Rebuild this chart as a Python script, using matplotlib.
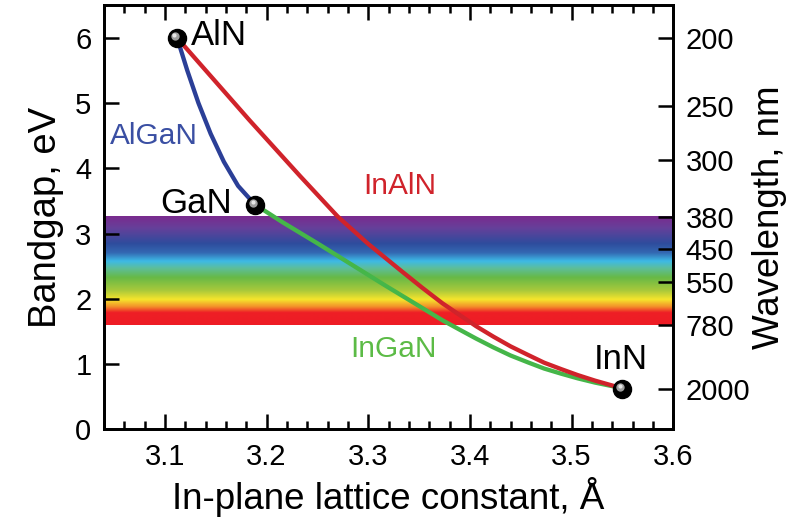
import numpy as np
import matplotlib
matplotlib.use('Agg')
import matplotlib.pyplot as plt
from matplotlib.colors import LinearSegmentedColormap
from matplotlib.ticker import MultipleLocator
from matplotlib.transforms import offset_copy

plt.rcParams['font.family'] = ['Liberation Sans', 'DejaVu Sans']

# binary compounds: lattice constant (A), bandgap (eV)
compounds = ['AlN', 'GaN', 'InN']
a_bin = [3.112, 3.189, 3.55]
eg_bin = [6.0, 3.44, 0.62]

# ternary curves
algan_a = [3.112, 3.122, 3.133, 3.145, 3.158, 3.172, 3.183, 3.189]
algan_eg = [6.0, 5.50, 5.00, 4.53, 4.10, 3.73, 3.54, 3.44]

inaln_a = [3.112, 3.183, 3.233, 3.270, 3.300, 3.333, 3.353, 3.373, 3.390,
           3.406, 3.423, 3.440, 3.457, 3.473, 3.490, 3.506, 3.523, 3.540, 3.55]
inaln_eg = [6.0, 4.74, 3.88, 3.26, 2.84, 2.42, 2.17, 1.93, 1.75,
            1.58, 1.42, 1.27, 1.14, 1.02, 0.92, 0.83, 0.745, 0.67, 0.62]

ingan_a = [3.189, 3.216, 3.250, 3.283, 3.316, 3.353, 3.373, 3.390, 3.406,
           3.423, 3.440, 3.457, 3.473, 3.490, 3.506, 3.523, 3.540, 3.55]
ingan_eg = [3.44, 3.17, 2.85, 2.53, 2.21, 1.86, 1.67, 1.525, 1.39,
            1.255, 1.13, 1.025, 0.93, 0.85, 0.78, 0.715, 0.66, 0.62]

# right axis: wavelength labels and where they sit on the eV scale
wl_labels = ['200', '250', '300', '380', '450', '550', '780', '2000']
wl_ev = [6.0, 4.96, 4.13, 3.26, 2.76, 2.25, 1.59, 0.62]

# visible band (eV) and its colour stops
band_lo, band_hi = 1.59, 3.26
band_ev = [1.59, 1.78, 1.87, 1.98, 2.12, 2.32, 2.46, 2.57, 2.70, 2.84, 3.08, 3.26]
band_col = ['#EE1C25', '#EE1F26', '#F3902A', '#F6E52C', '#A9C93B', '#67B946',
            '#5DBE9A', '#3DBAE6', '#3468B2', '#2E4C9D', '#66409A', '#7A2B8E']

xmin, xmax = 3.04, 3.6
ymin, ymax = 0, 6.5

fig = plt.figure(figsize=(7.93, 5.19), dpi=100)
ax = fig.add_axes([0.131, 0.173, 0.718, 0.817])

# rainbow band
pos = [(e - band_lo) / (band_hi - band_lo) for e in band_ev]
cmap = LinearSegmentedColormap.from_list('vis', list(zip(pos, band_col)))
grad = np.linspace(0, 1, 256).reshape(-1, 1)
ax.imshow(grad, cmap=cmap, origin='lower', aspect='auto',
          extent=[xmin, xmax, band_lo, band_hi], zorder=1, interpolation='bilinear')

ax.plot(algan_a, algan_eg, color='#2B3F97', lw=3.1, zorder=3, solid_joinstyle='round')
ax.plot(ingan_a, ingan_eg, color='#45B649', lw=3.1, zorder=3, solid_joinstyle='round')
ax.plot(inaln_a, inaln_eg, color='#D0232B', lw=3.1, zorder=4, solid_joinstyle='round')

# balls with a small highlight
ax.plot(a_bin, eg_bin, 'o', color='black', ms=13, zorder=5)
hl = offset_copy(ax.transData, fig=fig, x=-1.6, y=1.6, units='points')
ax.plot(a_bin, eg_bin, 'o', color='#9e9e9e', ms=6, mec='none', transform=hl, zorder=6)
hl2 = offset_copy(ax.transData, fig=fig, x=-1.9, y=1.9, units='points')
ax.plot(a_bin, eg_bin, 'o', color='#e6e6e6', ms=3, mec='none', transform=hl2, zorder=6)

ax.text(3.126, 5.89, 'AlN', fontsize=25, ha='left', va='baseline', zorder=7)
ax.text(3.166, 3.31, 'GaN', fontsize=25, ha='right', va='baseline', zorder=7)
ax.text(3.522, 0.92, 'InN', fontsize=25, ha='left', va='baseline', zorder=7)
ax.text(3.046, 4.37, 'AlGaN', fontsize=21.5, color='#3A4FA3', va='baseline')
ax.text(3.295, 3.60, 'InAlN', fontsize=21.5, color='#D0232B', va='baseline')
ax.text(3.282, 1.11, 'InGaN', fontsize=21.5, color='#5CBB46', va='baseline')

ax.set_xlim(xmin, xmax)
ax.set_ylim(ymin, ymax)
ax.xaxis.set_major_locator(MultipleLocator(0.1))
ax.xaxis.set_minor_locator(MultipleLocator(0.02))
ax.yaxis.set_major_locator(MultipleLocator(1))
ax.set_xticks(np.arange(3.1, 3.61, 0.1))
ax.set_xticklabels(['3.1', '3.2', '3.3', '3.4', '3.5', '3.6'])
ax.tick_params(axis='x', which='major', direction='in', length=11, width=1.8,
               labelsize=21, pad=10, top=True)
ax.tick_params(axis='x', which='minor', direction='in', length=6, width=1.8, top=True)
ax.tick_params(axis='y', which='major', direction='in', length=11, width=1.8,
               labelsize=21, pad=9, right=False)
for s in ax.spines.values():
    s.set_linewidth(2)
ax.set_xlabel('In-plane lattice constant, Å', fontsize=26.5, labelpad=4)
ax.set_ylabel('Bandgap, eV', fontsize=27.5, labelpad=8)

ax2 = ax.twinx()
ax2.set_ylim(ymin, ymax)
ax2.set_yticks(wl_ev)
ax2.set_yticklabels(wl_labels)
ax2.tick_params(axis='y', direction='in', length=11, width=1.8, labelsize=21, pad=9)
for s in ax2.spines.values():
    s.set_linewidth(2)
ax2.set_ylabel('Wavelength, nm', fontsize=26.5, labelpad=1)

fig.savefig('out.png', dpi=100)
